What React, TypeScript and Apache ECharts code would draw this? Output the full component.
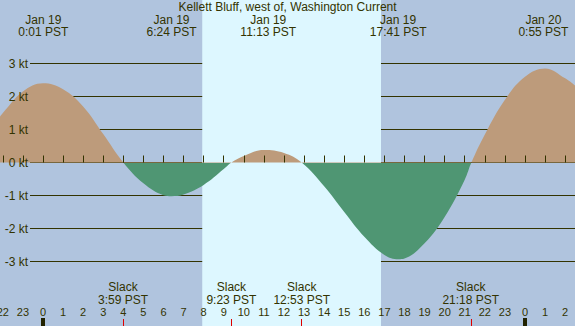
import React, { useEffect, useRef } from "react";
import * as echarts from "echarts";

const title = "Kellett Bluff, west of, Washington Current";
// Current speed samples: hours since Jan 19 0:00 PST, knots
const hours = [-2.14, -2, -1, 0, 1, 2, 3, 4, 5, 6, 6.4, 7, 8, 9, 9.38, 10, 11, 12, 12.88, 14, 15, 16, 17, 17.7, 18, 19, 20, 21, 21.33, 22, 23, 24, 25, 26, 26.49];
const knots = [1.39, 1.5, 2.15, 2.4, 2.22, 1.7, 0.86, 0, -0.63, -0.99, -1.02, -0.97, -0.68, -0.2, 0, 0.2, 0.38, 0.29, 0, -0.72, -1.5, -2.25, -2.8, -2.93, -2.91, -2.45, -1.65, -0.52, 0, 0.85, 1.9, 2.6, 2.85, 2.55, 2.33];

const extremaTimes = [0.017, 6.4, 11.217, 17.683, 24.917];
const extremaDates = ["Jan 19", "Jan 19", "Jan 19", "Jan 19", "Jan 20"];
const extremaClock = ["0:01 PST", "6:24 PST", "11:13 PST", "17:41 PST", "0:55 PST"];
const slackTimes = [3.983, 9.383, 12.883, 21.3];
const slackClock = ["3:59 PST", "9:23 PST", "12:53 PST", "21:18 PST"];
const daylight = [7.93, 16.83];
const midnights = [0, 24];
const hourTicks = [-2, -1, 0, 1, 2, 3, 4, 5, 6, 7, 8, 9, 10, 11, 12, 13, 14, 15, 16, 17, 18, 19, 20, 21, 22, 23, 24, 25, 26];
const ktTicks = [-3, -2, -1, 0, 1, 2, 3];

const ink = "#333300";
const night = "#b0c4de";
const day = "#ddf7ff";
const flood = "#bd9b7b";
const ebb = "#4f9673";
const font = "'Liberation Sans', Arial, sans-serif";

const W = 575;
const H = 326;
const zeroY = 162.5;
const pxPerKt = 33;
const yMax = zeroY / pxPerKt;
const yMin = -(H - zeroY) / pxPerKt;
const tickKt = 7 / pxPerKt;

export default function App() {
  const ref = useRef<HTMLDivElement>(null);
  useEffect(() => {
    if (!ref.current) return;
    const chart = echarts.init(ref.current, null, { renderer: "svg" });
    const tickLines: any[] = [];
    slackTimes.forEach((t) => {
      tickLines.push([
        { coord: [t, yMin], lineStyle: { color: "#e00000", width: 1, type: "solid" } },
        { coord: [t, yMin + tickKt] },
      ]);
    });
    midnights.forEach((t) => {
      tickLines.push([
        { coord: [t, yMin], lineStyle: { color: "#222200", width: 4, type: "solid" } },
        { coord: [t, yMin + 8 / pxPerKt] },
      ]);
    });
    const fillGradient = new echarts.graphic.LinearGradient(
      0,
      0,
      0,
      H,
      [
        { offset: 0, color: flood },
        { offset: zeroY / H, color: flood },
        { offset: zeroY / H, color: ebb },
        { offset: 1, color: ebb },
      ],
      true
    );
    const option: any = {
      animation: false,
      grid: [
        { left: 0, right: 0, top: 0, bottom: 0, containLabel: false, outerBoundsMode: "none" },
        {
          left: 30,
          right: 0,
          top: zeroY - 3 * pxPerKt,
          bottom: H - (zeroY + 3 * pxPerKt),
          containLabel: false,
          outerBoundsMode: "none",
        },
      ],
      xAxis: [
        {
          gridIndex: 0,
          type: "value",
          min: -2.14,
          max: 26.49,
          splitLine: { show: false },
          axisLine: { show: false },
          axisTick: { show: true, inside: true, length: 7, customValues: hourTicks, lineStyle: { color: ink } },
          axisLabel: {
            inside: true,
            margin: 9,
            customValues: hourTicks,
            formatter: (v: number) => String(((v % 24) + 24) % 24),
            color: ink,
            fontSize: 11,
            fontFamily: font,
          },
          z: 4,
        },
        { gridIndex: 1, type: "value", min: 0, max: 1, show: false },
      ],
      yAxis: [
        { gridIndex: 0, type: "value", min: yMin, max: yMax, show: false },
        {
          gridIndex: 1,
          type: "value",
          min: ktTicks[0],
          max: ktTicks[ktTicks.length - 1],
          interval: 1,
          axisLine: { show: false },
          axisTick: { show: false },
          axisLabel: { show: false },
          splitLine: { show: true, lineStyle: { color: ink, width: 1 } },
          z: 1,
        },
        {
          gridIndex: 1,
          type: "value",
          position: "left",
          min: ktTicks[0],
          max: ktTicks[ktTicks.length - 1],
          interval: 1,
          axisLine: { show: false },
          axisTick: { show: false },
          splitLine: { show: false },
          axisLabel: { formatter: "{value} kt", margin: 2, color: ink, fontSize: 12, fontFamily: font },
          z: 5,
        },
      ],
      series: [
        {
          type: "line",
          xAxisIndex: 0,
          yAxisIndex: 0,
          data: [[hours[0], 0]],
          showSymbol: false,
          lineStyle: { opacity: 0 },
          z: 0,
          silent: true,
          markArea: {
            silent: true,
            itemStyle: { color: day },
            data: [[{ xAxis: daylight[0] }, { xAxis: daylight[1] }]],
          },
        },
        {
          type: "line",
          xAxisIndex: 0,
          yAxisIndex: 0,
          data: hours.map((h, i) => [h, knots[i]]),
          smooth: 0.4,
          showSymbol: false,
          lineStyle: { width: 0, opacity: 0 },
          areaStyle: { opacity: 1, color: fillGradient },
          z: 2,
          silent: true,
        },
        {
          type: "line",
          xAxisIndex: 0,
          yAxisIndex: 0,
          data: [[hours[0], 0]],
          showSymbol: false,
          lineStyle: { opacity: 0 },
          z: 4,
          silent: true,
          markLine: {
            silent: true,
            symbol: ["none", "none"],
            label: { show: false },
            data: tickLines,
          },
        },
      ],
    };
    chart.setOption(option);
    const txt = (text: string, x: number, y: number) => ({
      type: "text",
      x,
      y,
      z: 10,
      style: { text, align: "center", verticalAlign: "top", font: `12px ${font}`, fill: ink, lineHeight: 12 },
    });
    const texts: any[] = [txt(title, W / 2, 1)];
    extremaTimes.forEach((t, i) => {
      const x = chart.convertToPixel({ xAxisIndex: 0 }, t) as number;
      texts.push(txt(extremaDates[i], x, 13.5));
      texts.push(txt(extremaClock[i], x, 26));
    });
    slackTimes.forEach((t, i) => {
      const x = chart.convertToPixel({ xAxisIndex: 0 }, t) as number;
      texts.push(txt("Slack", x, 280.5));
      texts.push(txt(slackClock[i], x, 293.5));
    });
    chart.setOption({ graphic: texts });
    return () => chart.dispose();
  }, []);
  return (
    <div
      ref={ref}
      style={{ position: "fixed", left: 0, top: 0, width: W, height: H, background: night }}
    />
  );
}
